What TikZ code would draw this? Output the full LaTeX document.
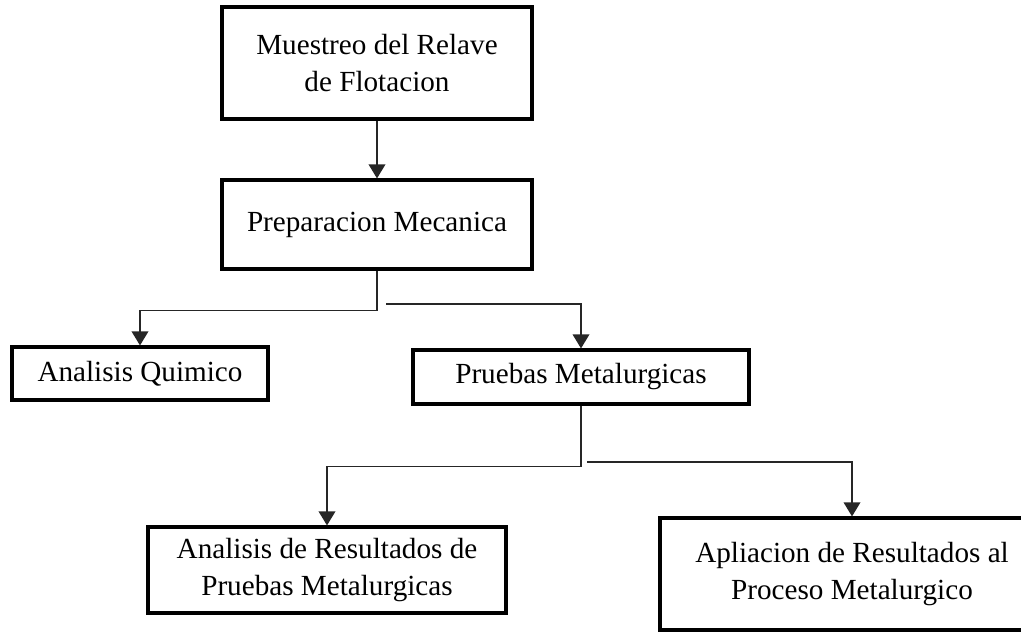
\documentclass[tikz,border=0pt]{standalone}
\usepackage{fontspec}
\setmainfont{Liberation Serif}
\usetikzlibrary{arrows.meta, calc}

\begin{document}
\begin{tikzpicture}[>={Triangle[length=8pt, width=9.5pt]}, line join=miter,
	font=\fontsize{16.6}{21.6}\selectfont,
	caja/.style={draw, line width=1.8pt, align=center, inner sep=0pt},
	flecha/.style={->, line width=0.75pt, draw=black!85}]
	
	% page frame (1021 x 632 px, 1 px = 0.02 cm)
	\useasboundingbox (0,0) rectangle (20.42,-12.64);
	
	%========================
	% boxes
	%========================
	\node[caja, minimum width=6.2cm, minimum height=2.24cm] (muestreo) at (7.54,-1.26)
	{Muestreo del Relave\\de Flotacion};
	\node[caja, minimum width=6.2cm, minimum height=1.78cm] (prep) at (7.54,-4.49)
	{Preparacion Mecanica};
	\node[caja, minimum width=5.12cm, minimum height=1.06cm] (quimico) at (2.80,-7.47)
	{Analisis Quimico};
	\node[caja, minimum width=6.72cm, minimum height=1.08cm] (pruebas) at (11.62,-7.54)
	{Pruebas Metalurgicas};
	\node[caja, minimum width=7.16cm, minimum height=1.72cm] (analisis) at (6.54,-11.40)
	{Analisis de Resultados de\\Pruebas Metalurgicas};
	\node[caja, minimum width=7.68cm, minimum height=2.24cm] (aplicacion) at (17.04,-11.48)
	{Apliacion de Resultados al\\Proceso Metalurgico};
	
	%========================
	% connectors
	%========================
	\draw[flecha] (muestreo.south) -- (prep.north);
	
	% first split: two separate lines
	\draw[flecha] (prep.south) -- ++(0,-0.8) -| (quimico.north);
	\coordinate (ramaA) at (7.72,-6.08);
	\draw[flecha] (ramaA) -| (pruebas.north);
	
	% second split
	\draw[flecha] (pruebas.south) -- ++(0,-1.22) -| (analisis.north);
	\coordinate (ramaB) at (11.74,-9.24);
	\draw[flecha] (ramaB) -| (aplicacion.north);
	
\end{tikzpicture}
\end{document}
